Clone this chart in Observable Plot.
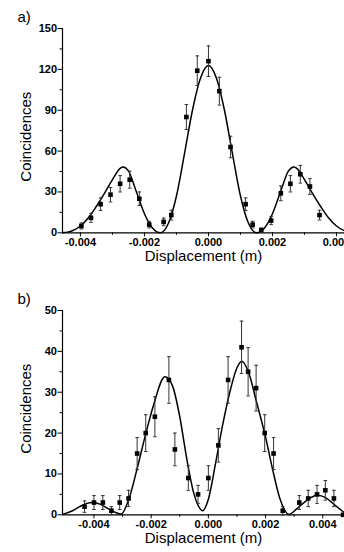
<!DOCTYPE html>
<html>
<head>
<meta charset="utf-8">
<script src="https://cdn.jsdelivr.net/npm/d3@7"></script>
<script src="https://cdn.jsdelivr.net/npm/@observablehq/plot@0.6"></script>
<style>
  html, body { margin: 0; padding: 0; background: white; overflow: hidden; }
  svg { display: block; }
</style>
</head>
<body>
<script>
// ---------- Panel a data ----------
const aX = [-0.00397,-0.00367,-0.00337,-0.00306,-0.00276,-0.00246,-0.00216,-0.00185,-0.0014,-0.00116,-0.00069,-0.00035,0,0.00034,0.00069,0.00116,0.00138,0.00165,0.00196,0.00226,0.00256,0.00287,0.00317,0.00347];
const aY = [5,11,21,28,36,39,25,6,8,13,85,119,126,104,63,21,6,2,9,29,36,43,34,13];
const aErr = [2.2,3.3,4.6,5.3,6,6.2,5,2.4,2.8,3.6,9.2,10.9,11.2,10.2,7.9,4.6,2.4,1.4,3,5.4,6,6.5,5.8,3.6];
const aCurveX = [-0.00456,-0.0044,-0.00425,-0.004,-0.00375,-0.0035,-0.00325,-0.003,-0.00275,-0.00267,-0.0025,-0.00225,-0.002,-0.00175,-0.0015,-0.00125,-0.001,-0.00075,-0.0005,-0.00025,0,0.00025,0.0005,0.00075,0.001,0.00125,0.0015,0.00175,0.002,0.00225,0.0025,0.00267,0.00275,0.003,0.00325,0.0035,0.00375,0.004,0.00425,0.0044];
const aCurveY = [0,0.5,1.5,5,11,19.5,29,39,47.5,48.4,45.5,30,14,3.5,0,7,27,58,90,113.5,122.8,113.5,90,58,27,7,0,3.5,14,30,45.5,48.4,47.5,39,29,19.5,11,5,1.5,0.5];
const aXTicks = [-0.004,-0.002,0,0.002,0.004];
const aXMinor = [-0.003,-0.001,0.001,0.003];
const aYTicks = [0,30,60,90,120,150];
const aYMinor = [15,45,75,105,135];

// ---------- Panel b data ----------
const bX = [-0.00433,-0.004,-0.00369,-0.00339,-0.0031,-0.00279,-0.00249,-0.00219,-0.00187,-0.00138,-0.00117,-0.0007,-0.00036,0,0.00035,0.00069,0.00116,0.00139,0.00167,0.00197,0.00228,0.0026,0.00318,0.00349,0.0038,0.00409,0.00439,0.00471];
const bY = [2,3,3,1,3,4,15,20,24,33,16,9,5,9,17,33,41,35,31,20,15,1,3,4,5,6,4,0];
const bErr = [1.4,1.7,1.7,1,1.7,2,3.9,4.5,4.9,5.7,4,3,2.2,3,4.1,5.7,6.4,5.9,5.6,4.5,3.9,1,1.7,2,2.2,2.4,2,0];
const bCurveX = [-0.0051,-0.00475,-0.0045,-0.00425,-0.00405,-0.00375,-0.0035,-0.00325,-0.00305,-0.00278,-0.00248,-0.00219,-0.00191,-0.00152,-0.00125,-0.001,-0.00075,-0.0005,-0.00035,-0.0002,0,0.00025,0.0005,0.00075,0.001,0.00117,0.0014,0.00167,0.002,0.00225,0.0025,0.00282,0.0031,0.0034,0.0038,0.0041,0.0044,0.00476];
const bCurveY = [0.1,1.0,2.0,2.8,3.0,2.5,1.5,0.6,0.2,3.8,11.6,19.8,27,33.8,31.5,24,13.5,5,2.2,1,3.8,12.5,22,30,36,37.6,35,28,19,11,4,0.1,1.5,3.3,4.8,4.2,2.5,0.5];
const bXTicks = [-0.004,-0.002,0,0.002,0.004];
const bXMinor = [-0.003,-0.001,0.001,0.003];
const bYTicks = [0,10,20,30,40,50];
const bYMinor = [5,15,25,35,45];

const FONT = "'Liberation Sans', Arial, Helvetica, sans-serif";
const capSymbol = {
  draw(ctx, size) {
    const r = Math.sqrt(size / Math.PI);
    ctx.moveTo(-r, 0);
    ctx.lineTo(r, 0);
  }
};
const fmt = d => d.toFixed(3);

function panel({label, xs, ys, errs, cxs, cys, xDomain, yDomain, xTicks, xMinor, yTicks, yMinor, marginTop, marginBottom, labelDy, ylabDy, xlabDy}) {
  const pts = xs.map((x, i) => ({x, y: ys[i], e: errs[i]}));
  const bars = pts.filter(d => d.e > 0);
  const curve = cxs.map((x, i) => ({x, y: cys[i]}));
  return Plot.plot({
    width: 344,
    height: 276,
    marginLeft: 62,
    marginRight: 0,
    marginTop,
    marginBottom,
    style: {fontFamily: FONT, background: "white", color: "black"},
    x: {domain: xDomain, label: null},
    y: {domain: yDomain, label: null},
    marks: [
      Plot.axisY(yTicks, {anchor: "left", tickSize: 4.5, tickPadding: 1, fontSize: 11, fontWeight: "bold", label: null, strokeWidth: 1}),
      Plot.axisY(yMinor, {anchor: "left", tickSize: 2.5, tickFormat: () => "", label: null}),
      Plot.axisX(xTicks, {anchor: "bottom", tickSize: 4, tickPadding: 1, tickFormat: fmt, fontSize: 11, fontWeight: "bold", label: null}),
      Plot.axisX(xMinor, {anchor: "bottom", tickSize: 2.5, tickFormat: () => "", label: null}),
      Plot.ruleY([yDomain[0]], {stroke: "black", strokeWidth: 1.2}),
      Plot.ruleX([xDomain[0]], {stroke: "black", strokeWidth: 1.2}),
      Plot.line(curve, {x: "x", y: "y", curve: "monotone-x", stroke: "black", strokeWidth: 1.5}),
      Plot.ruleX(bars, {x: "x", y1: d => d.y - d.e, y2: d => d.y + d.e, stroke: "#333", strokeWidth: 1}),
      Plot.dot(bars, {x: "x", y: d => d.y + d.e, symbol: capSymbol, r: 1.8, stroke: "#333", strokeWidth: 1, fill: "none"}),
      Plot.dot(bars, {x: "x", y: d => d.y - d.e, symbol: capSymbol, r: 1.8, stroke: "#333", strokeWidth: 1, fill: "none"}),
      Plot.dot(pts, {x: "x", y: "y", symbol: "square", r: 2.6, fill: "black", stroke: "none"}),
      Plot.text([label], {text: d => d, frameAnchor: "top-left", dx: -45, dy: labelDy, textAnchor: "start", lineAnchor: "middle", fontSize: 15, fill: "black"}),
      Plot.text(["Coincidences"], {text: d => d, frameAnchor: "left", rotate: -90, dx: -36, dy: ylabDy, textAnchor: "middle", lineAnchor: "middle", fontSize: 15, fill: "black"}),
      Plot.text(["Displacement (m)"], {text: d => d, frameAnchor: "bottom", dy: xlabDy, textAnchor: "middle", lineAnchor: "middle", fontSize: 15, fill: "black"})
    ]
  });
}

document.body.append(panel({
  label: "a)", xs: aX, ys: aY, errs: aErr, cxs: aCurveX, cys: aCurveY,
  xDomain: [-0.00456, 0.00425], yDomain: [0, 150],
  xTicks: aXTicks, xMinor: aXMinor, yTicks: aYTicks, yMinor: aYMinor,
  marginTop: 28, marginBottom: 43.7, labelDy: -11.3, ylabDy: 6, xlabDy: 23
}));
document.body.append(panel({
  label: "b)", xs: bX, ys: bY, errs: bErr, cxs: bCurveX, cys: bCurveY,
  xDomain: [-0.0051, 0.00476], yDomain: [0, 50],
  xTicks: bXTicks, xMinor: bXMinor, yTicks: bYTicks, yMinor: bYMinor,
  marginTop: 34, marginBottom: 37.7, labelDy: -11, ylabDy: -4, xlabDy: 23
}));
</script>
</body>
</html>
